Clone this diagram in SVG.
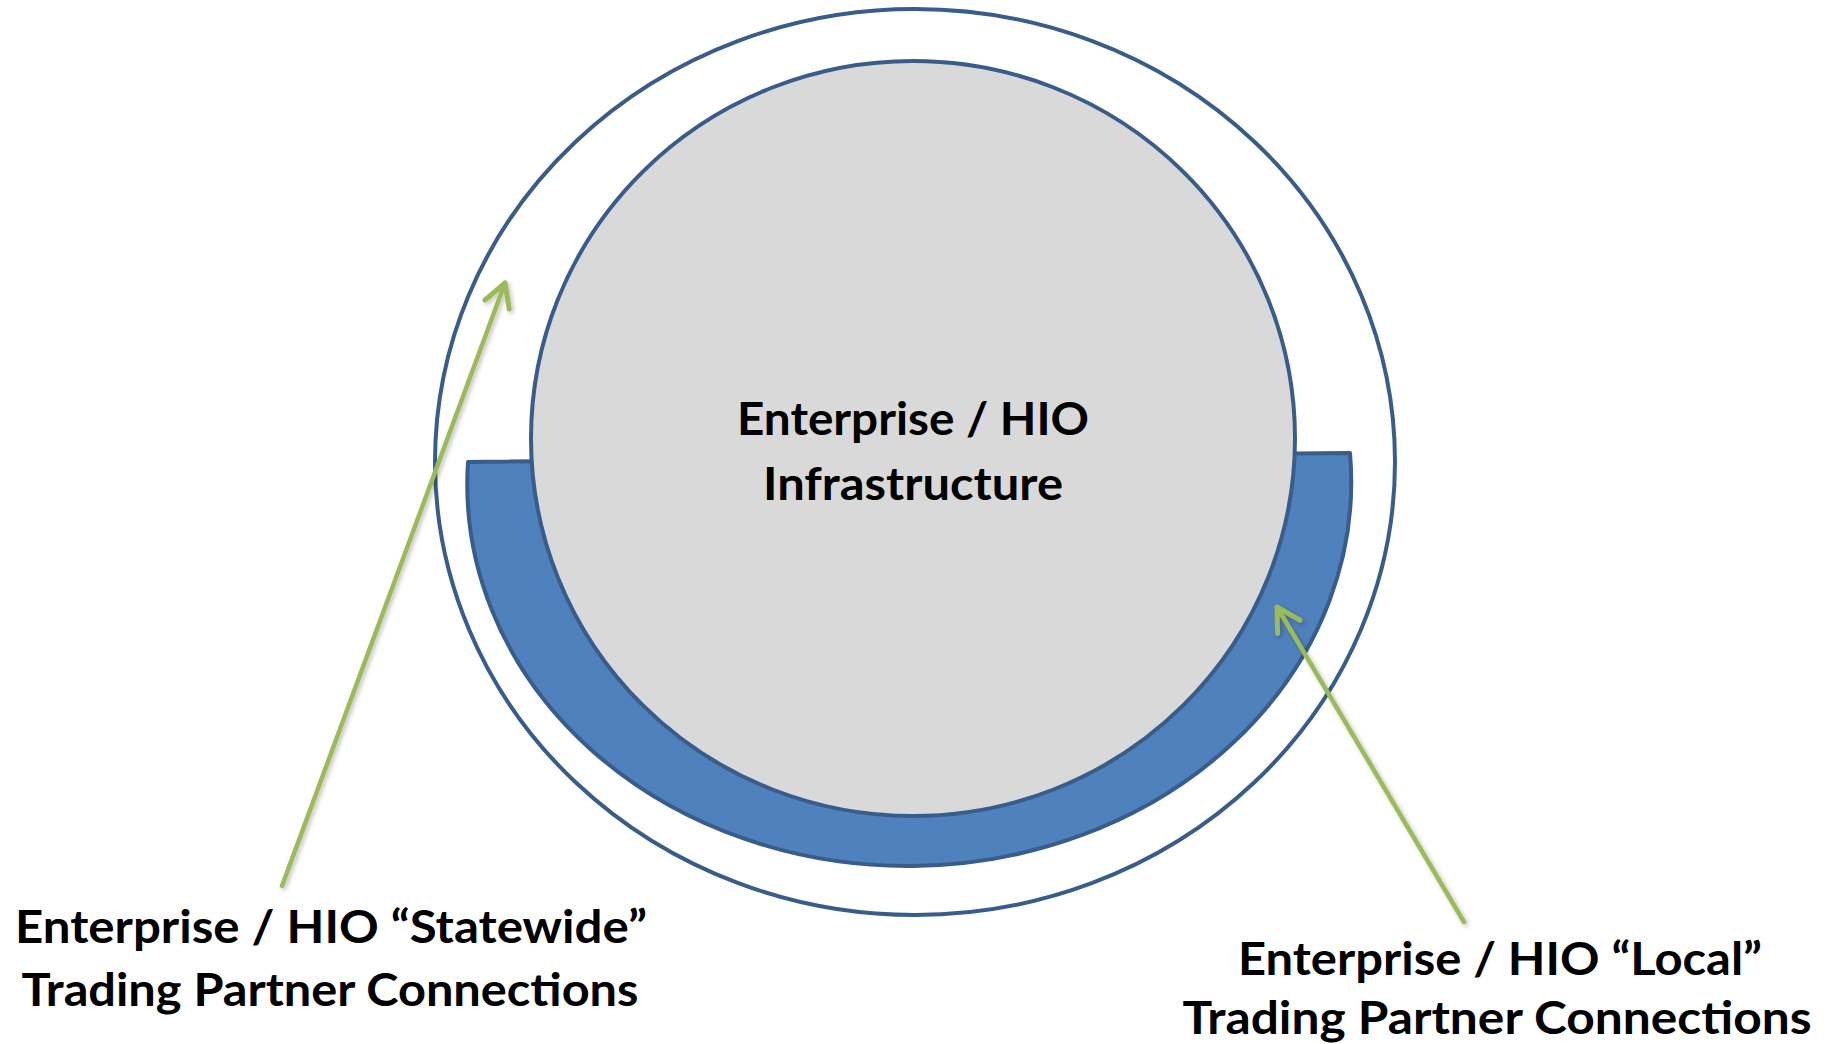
<svg xmlns="http://www.w3.org/2000/svg" width="1832" height="1044" viewBox="0 0 1832 1044">
  <style>
    .outline { stroke: #385d8a; stroke-width: 4; }
    .label { font-family: Lato, "Open Sans", "Liberation Sans", sans-serif; font-weight: bold; font-size: 46px; fill: #000000; text-anchor: middle; }
    .conn { stroke: #9bbb59; stroke-width: 4.5; fill: none; stroke-linecap: round; }
  </style>
  <defs>
    <marker id="chev" markerUnits="userSpaceOnUse" markerWidth="40" markerHeight="40" refX="0" refY="0" viewBox="-30 -20 40 40" orient="auto" overflow="visible">
      <path d="M -23 -13 L 0 0 L -23 13" fill="none" stroke="#9bbb59" stroke-width="5" stroke-linecap="round" stroke-linejoin="round"/>
    </marker>
    <filter id="sh" x="-20%" y="-20%" width="140%" height="140%">
      <feDropShadow dx="2" dy="2" stdDeviation="2" flood-color="#000000" flood-opacity="0.25"/>
    </filter>
  </defs>
  <rect width="1832" height="1044" fill="#ffffff"/>

  <g id="statewide-ring">
    <ellipse cx="915" cy="462" rx="480" ry="453" fill="none" class="outline"/>
  </g>

  <g id="local-band">
    <path d="M 468 462 L 1350 453 A 442 383 -0.6 1 1 468 462 Z" fill="#4f81bd" class="outline" stroke-linejoin="round"/>
  </g>

  <g id="infrastructure">
    <ellipse cx="913" cy="438.5" rx="382" ry="377.5" fill="#d9d9d9" class="outline"/>
    <text class="label" x="913" y="435" textLength="352" lengthAdjust="spacingAndGlyphs">Enterprise / HIO</text>
    <text class="label" x="913" y="500" textLength="300" lengthAdjust="spacingAndGlyphs">Infrastructure</text>
  </g>

  <g id="statewide-label">
    <text class="label" x="331" y="943" textLength="632" lengthAdjust="spacingAndGlyphs">Enterprise / HIO “Statewide”</text>
    <text class="label" x="330" y="1006" textLength="617" lengthAdjust="spacingAndGlyphs">Trading Partner Connections</text>
  </g>

  <g id="local-label">
    <text class="label" x="1500" y="975" textLength="524" lengthAdjust="spacingAndGlyphs">Enterprise / HIO “Local”</text>
    <text class="label" x="1497" y="1034" textLength="629" lengthAdjust="spacingAndGlyphs">Trading Partner Connections</text>
  </g>

  <g id="connectors" filter="url(#sh)">
    <line class="conn" x1="282" y1="886" x2="505" y2="283" marker-end="url(#chev)"/>
    <line class="conn" x1="1464" y1="922" x2="1277" y2="607" marker-end="url(#chev)"/>
  </g>
</svg>
